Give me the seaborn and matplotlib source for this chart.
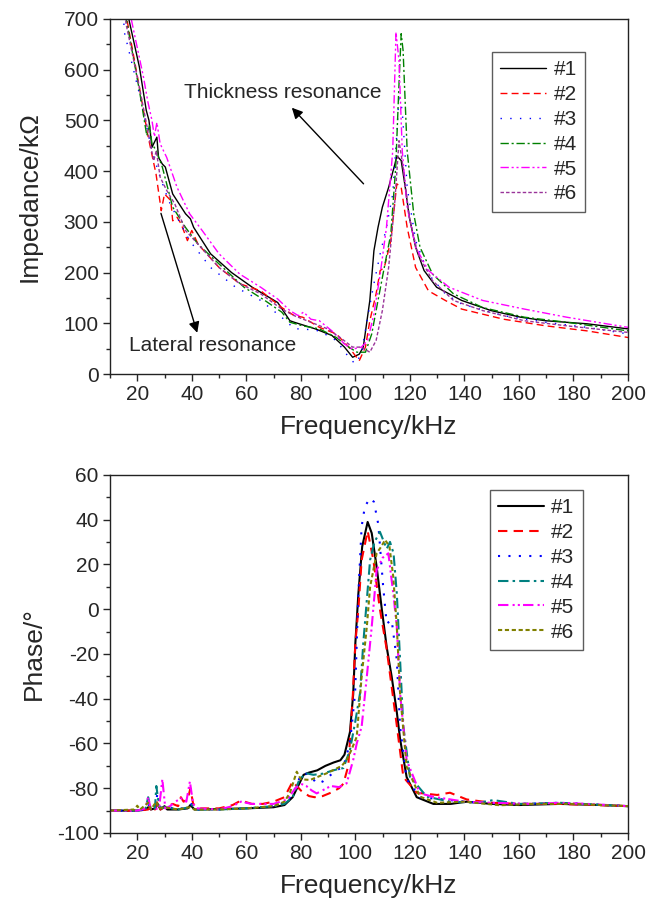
import numpy as np
import pandas as pd
import seaborn as sns
import matplotlib
matplotlib.use("Agg")
import matplotlib.pyplot as plt
from matplotlib.ticker import MultipleLocator

# impedance curves (kHz, kOhm)
f_z1 = [16.0, 16.9, 20.8, 23.3, 23.8, 24.3, 25.4, 27.2, 27.8, 29.2, 30.3, 33, 37.7, 39.5, 40.7, 46.9, 54.6, 62.2, 71.5, 76, 77.6, 85.3, 91.4, 96, 99, 101.4, 102.9, 105.3, 106.8, 108.3, 109.9, 112.2, 114.5, 115.2, 116.8, 118.3, 119.8, 122.1, 125.2, 129.8, 139, 149.8, 160.6, 169.8, 185, 200]
z1 = [745, 700, 605, 520, 510, 500, 447, 467, 427, 414, 408, 355, 316, 306, 289, 237, 200, 171, 141, 105, 102, 89, 76, 53, 33, 39, 53, 145, 243, 289, 329, 368, 414, 430, 421, 368, 309, 250, 204, 171, 145, 125, 112, 105, 99, 89]

f_z2 = [15.0, 15.5, 20.8, 23.8, 26.9, 28.8, 30, 32.3, 33, 34.6, 36.1, 38.4, 40, 42.3, 50, 57.6, 65.3, 73, 77.6, 80.7, 86.8, 93, 97.6, 101.4, 103.7, 105.3, 107.6, 109.1, 110.6, 113, 115.2, 116.8, 119, 122.1, 126.8, 133, 139, 154.4, 169.8, 185, 200]
z2 = [750, 720, 565, 473, 394, 322, 355, 342, 302, 309, 296, 263, 283, 256, 210, 178, 164, 131, 115, 112, 92, 79, 53, 26, 53, 105, 158, 204, 210, 263, 375, 368, 289, 210, 164, 145, 128, 108, 95, 85, 72]

f_z3 = [14.8, 15.4, 20.8, 25.4, 28.4, 31.5, 34.6, 39.2, 46.9, 56.1, 65.3, 74.5, 77.6, 80.7, 86.8, 93, 97.6, 99.9, 102.2, 104.5, 106.8, 109.1, 111.4, 113.7, 115.2, 116, 117.2, 119, 122.1, 126.8, 133, 139, 154.4, 169.8, 185, 200]
z3 = [710, 671, 552, 440, 388, 342, 309, 263, 210, 171, 145, 105, 89, 89, 85, 66, 33, 20, 39, 112, 178, 237, 289, 355, 473, 552, 519, 368, 263, 197, 158, 138, 115, 102, 92, 79]

f_z4 = [15.2, 15.8, 20.8, 23.5, 24.5, 25.4, 27, 29.2, 33, 37.7, 42.3, 50, 59.2, 66.8, 73, 76, 80.7, 86.8, 93, 97.6, 100.6, 103.7, 106, 108.3, 110.6, 113, 114.8, 116, 116.8, 117.5, 119, 121.4, 123.7, 128.3, 136, 146.7, 162, 177.5, 200]
z4 = [740, 705, 559, 470, 490, 454, 440, 408, 329, 289, 256, 217, 171, 145, 122, 102, 95, 89, 72, 53, 43, 43, 79, 145, 210, 276, 408, 572, 671, 638, 440, 316, 250, 197, 158, 131, 112, 102, 85]

f_z5 = [16.5, 17, 22.3, 23.8, 25.4, 26.3, 27.2, 28.4, 30.8, 34.6, 39.2, 43.8, 50, 57.6, 65.3, 71.5, 76, 79.1, 81, 83.7, 86.8, 91.4, 96, 99, 102.2, 104.5, 106.8, 109.1, 111.4, 113.7, 114.9, 116, 117.2, 119, 122.1, 126.8, 134.4, 146.7, 162, 177.5, 200]
z5 = [745, 720, 585, 539, 500, 468, 496, 454, 427, 368, 316, 283, 237, 197, 171, 148, 125, 115, 122, 108, 105, 85, 59, 49, 53, 66, 118, 197, 289, 440, 674, 618, 440, 329, 250, 204, 171, 145, 128, 112, 92]

f_z6 = [15.2, 15.9, 20.8, 24.6, 26, 27, 28.4, 30.8, 33.8, 37.7, 42.3, 50, 57.6, 65.3, 73, 77.6, 83.7, 89.8, 94.4, 99, 102.2, 105.3, 107.6, 109.9, 112.2, 114.5, 116, 117.5, 119.8, 122.9, 128.3, 136, 146.7, 162, 177.5, 200]
z6 = [730, 690, 565, 460, 420, 440, 388, 362, 335, 283, 256, 210, 178, 158, 128, 115, 102, 89, 72, 53, 53, 43, 66, 125, 210, 342, 460, 408, 309, 237, 184, 145, 125, 105, 95, 82]

# phase curves (kHz, degrees)
f_p1 = [10, 20, 23, 24, 25, 26.5, 27.5, 28.5, 30, 31, 35, 38.5, 39.5, 41, 50, 60, 70, 74, 77, 79, 81, 83, 86, 89, 92, 94.5, 96, 98, 99.2, 100, 101.1, 102.5, 104.5, 106, 107.8, 109.7, 111.5, 113.3, 115.2, 116.4, 118.8, 122.5, 128.6, 135, 140.8, 150, 160, 175, 190, 200]
p1 = [-90, -90, -89.5, -88.5, -89.5, -89, -87, -89.5, -88, -89.5, -89.5, -89, -87.5, -89.5, -89.3, -89, -88.5, -87.5, -84, -79, -74, -73, -72, -70, -68.5, -67.5, -65, -55, -38, -15, 7, 28, 39, 34, 19, 0, -17, -30, -46, -58, -75, -84, -87, -87, -86, -87, -87.5, -87, -87.5, -88]

f_p2 = [10, 20, 24, 25, 26.5, 27.5, 28.5, 30, 33, 35, 36, 37, 38.5, 39.5, 40.5, 43, 50, 55, 58, 62, 66, 70, 74, 77, 80, 83, 85, 88, 91, 94, 95.6, 97.4, 99, 100, 101.1, 102.3, 104.5, 106.6, 109, 111.5, 115.2, 117.6, 122.5, 130, 134.7, 140.8, 150, 160, 175, 200]
p2 = [-90, -90, -89.5, -88, -89.5, -85.5, -89.5, -88.5, -87, -88, -84, -86, -85, -80, -87, -89, -89, -87.5, -85.5, -87, -87, -86, -84, -77, -81, -83.5, -84, -83.5, -82, -80, -78, -70, -40, -15, 0, 22, 35, 22, 0, -18, -52, -75, -82, -83, -82, -85, -86.5, -87, -87, -88]

f_p3 = [10, 20, 23, 24, 25, 26.5, 27.5, 28.5, 30, 35, 39, 40, 42, 50, 60, 70, 75, 78, 80, 82, 84, 85.8, 88, 91, 93, 95.6, 98, 99.9, 101.1, 102.3, 103.5, 105.4, 106.8, 108.4, 110.2, 111.5, 113.3, 115.2, 116.4, 118.8, 123.7, 134.7, 145, 160, 175, 200]
p3 = [-90, -90, -89.5, -87, -89.5, -88, -82, -89, -88, -89.5, -88, -87, -89.5, -89.5, -89, -88, -86, -80, -74, -73.5, -75, -78, -77, -74, -72, -70.4, -60, -37.6, 7, 37, 46, 49.6, 48, 38, 10, -6.4, -4.8, -22.7, -52.5, -76, -84, -85.3, -86.5, -87, -86.5, -88]

f_p4 = [10, 20, 23, 24, 25, 26.5, 27, 28, 29, 30, 35, 39, 40, 42, 50, 60, 70, 74, 77, 79.5, 82, 84.6, 88, 91.9, 93.5, 95.6, 98, 100, 101.7, 102.9, 105.4, 107, 109, 110.5, 111.5, 112.7, 114, 115.2, 116.4, 117.6, 120, 126.2, 135, 145, 150.6, 160, 175, 200]
p4 = [-90, -90, -89.5, -84, -89.5, -89, -79, -88, -89, -88.5, -89.5, -88.5, -87.5, -89.5, -89.5, -89, -88, -87, -84, -76, -73.3, -74, -73.5, -72, -71.5, -71, -63, -50, -37.6, -15.2, 22, 30, 34.6, 30, 27, 30.1, 25, 7, -22.7, -52.5, -74.8, -83.8, -86, -86.5, -85.3, -87, -86.5, -88]

f_p5 = [10, 20, 23, 24, 25, 28, 29.2, 30.3, 32, 34, 36, 38, 39.3, 40.5, 42, 50, 55, 58, 62, 70, 75, 78, 80, 82, 84, 85.8, 88.2, 91, 94, 96.8, 99.2, 100.5, 102.3, 104.2, 106, 107.8, 110, 112.1, 113.9, 115.2, 116.4, 118.8, 123.7, 128.6, 140, 150, 165, 175, 185, 200]
p5 = [-90, -90, -89, -84, -89.5, -89, -76, -89, -88, -86, -84.5, -86, -77, -87, -89, -89.5, -88, -86, -87, -87, -85, -80, -78, -79, -81, -82.3, -80.8, -79, -79.5, -77.8, -67.4, -60, -52.5, -30.1, -7.8, 17.5, 23, 25, 7.1, -7.8, -37.6, -67.4, -82.3, -83.8, -86, -86.5, -87, -86.5, -87, -88]

f_p6 = [10, 19, 20, 21, 24, 25, 27, 28, 30, 35, 39, 41, 50, 60, 70, 74, 76, 78.5, 80, 83.4, 86, 89.5, 93.2, 95, 96.8, 98.5, 100.5, 102.3, 104.2, 105.4, 107.8, 109.5, 110.9, 112.5, 113.9, 115.2, 116.4, 118.8, 123.7, 130, 140, 153, 165, 180, 200]
p6 = [-90, -89.5, -87.8, -89.5, -86.5, -89.5, -86, -89, -88.5, -89.5, -88.5, -89.5, -89.5, -89, -88, -86, -82, -72.6, -76, -76.3, -75, -73.3, -71.1, -70, -67.4, -63, -57, -30.1, -7.8, 10, 25, 28, 31, 28, 14.5, -7.8, -37.6, -70.4, -83.8, -86.5, -86, -87.6, -87, -87, -88]

labels = ["#1", "#2", "#3", "#4", "#5", "#6"]
top_colors = ["black", "red", "blue", "green", "magenta", "#993399"]
bot_colors = ["black", "red", "blue", "teal", "magenta", "olive"]
top_dashes = [None, (5, 3), (1, 6), (6, 2, 1.5, 2), (6, 2, 1.5, 2, 1.5, 2), (2.5, 1.5)]
bot_dashes = [None, (4.5, 3), (1, 4), (5, 2, 1.2, 2), (5, 2, 1, 1.5, 1, 1.5), (2, 1.3)]

sns.set_style("ticks")
plt.rcParams["font.family"] = ["Liberation Sans", "DejaVu Sans"]
plt.rcParams["axes.unicode_minus"] = False

fig = plt.figure(figsize=(6.57, 9.08), dpi=100)
ax1 = fig.add_axes([0.1674, 0.5881, 0.7885, 0.391])
ax2 = fig.add_axes([0.1674, 0.0826, 0.7885, 0.3943])

imp = [(f_z1, z1), (f_z2, z2), (f_z3, z3), (f_z4, z4), (f_z5, z5), (f_z6, z6)]
pha = [(f_p1, p1), (f_p2, p2), (f_p3, p3), (f_p4, p4), (f_p5, p5), (f_p6, p6)]

for i, (fx, vy) in enumerate(imp):
    sns.lineplot(x=fx, y=vy, ax=ax1, color=top_colors[i], linewidth=1.0,
                 sort=False, estimator=None, label=labels[i], legend=False)
    if top_dashes[i]:
        ax1.lines[-1].set_dashes(top_dashes[i])

for i, (fx, vy) in enumerate(pha):
    sns.lineplot(x=fx, y=vy, ax=ax2, color=bot_colors[i], linewidth=1.5,
                 sort=False, estimator=None, label=labels[i], legend=False)
    if bot_dashes[i]:
        ax2.lines[-1].set_dashes(bot_dashes[i])

ax1.set_ylim(0, 700)
ax2.set_ylim(-100, 60)
ax1.yaxis.set_major_locator(MultipleLocator(100))
ax1.yaxis.set_minor_locator(MultipleLocator(50))
ax2.yaxis.set_major_locator(MultipleLocator(20))
ax2.yaxis.set_minor_locator(MultipleLocator(10))

for ax in (ax1, ax2):
    ax.set_xlim(10, 200)
    ax.xaxis.set_major_locator(MultipleLocator(20))
    ax.xaxis.set_minor_locator(MultipleLocator(10))
    ax.tick_params(which="major", direction="out", length=5, width=1, labelsize=15, pad=3)
    ax.tick_params(which="minor", direction="out", length=3, width=1)
    for s in ax.spines.values():
        s.set_visible(True)
        s.set_linewidth(1.0)
        s.set_color("#222222")
    ax.set_xlabel("Frequency/kHz", fontsize=19, labelpad=8)

ax1.set_ylabel("Impedance/kΩ", fontsize=19, labelpad=16)
ax2.set_ylabel("Phase/°", fontsize=19, labelpad=8)

for ax, anchor in ((ax1, (0.917, 0.907)), (ax2, (0.913, 0.958))):
    leg = ax.legend(loc="upper right", bbox_to_anchor=anchor, fontsize=15,
                    frameon=True, fancybox=False, edgecolor="#333333",
                    handlelength=2.2, handletextpad=0.35, labelspacing=0.28,
                    borderpad=0.4, borderaxespad=0)
    leg.get_frame().set_linewidth(1.0)

# resonance annotations
ax1.text(37, 556, "Thickness resonance", fontsize=15, ha="left", va="center")
ax1.annotate("", xy=(76, 529), xytext=(103.7, 371),
             arrowprops=dict(arrowstyle="-|>", color="black", lw=1.0, mutation_scale=16))
ax1.text(17, 56, "Lateral resonance", fontsize=15, ha="left", va="center")
ax1.annotate("", xy=(42.3, 76), xytext=(28.4, 322),
             arrowprops=dict(arrowstyle="-|>", color="black", lw=1.0, mutation_scale=16))

fig.savefig("out.png", dpi=100)
